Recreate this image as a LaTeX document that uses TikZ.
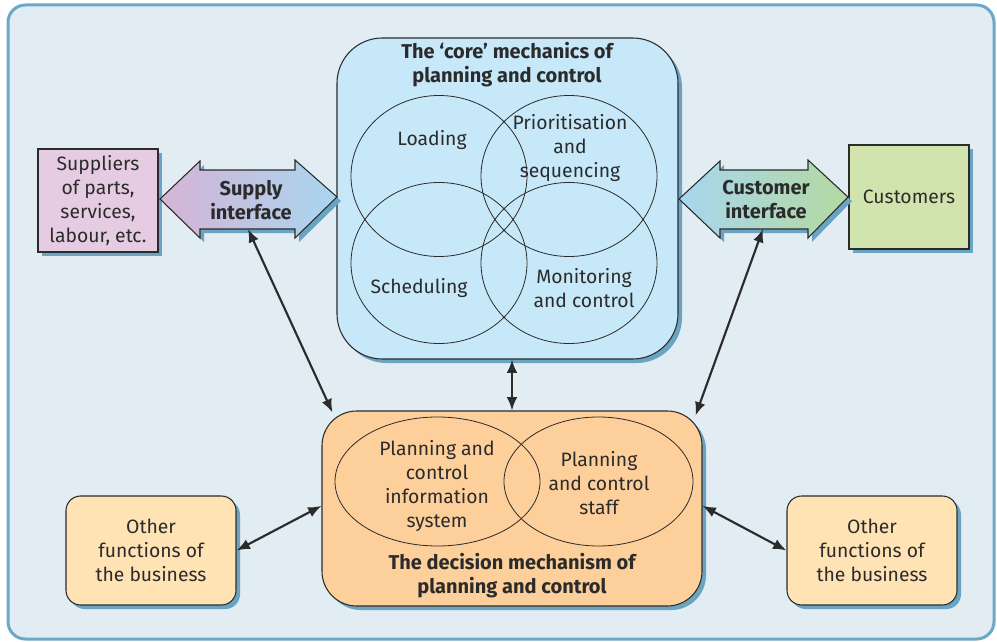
\documentclass[tikz,border=0pt]{standalone}
\usepackage{fontspec}
\setmainfont{Fira Sans}
\usepackage{xcolor}
\definecolor{bgblue}{HTML}{E1ECF3}
\definecolor{frameblue}{HTML}{6CA8C8}
\definecolor{shadowblue}{HTML}{6BA3C2}
\definecolor{corefill}{HTML}{C6E8F8}
\definecolor{decfill}{HTML}{FDCF9B}
\definecolor{otherfill}{HTML}{FFE3B5}
\definecolor{suppfill}{HTML}{E6CCE3}
\definecolor{custfill}{HTML}{D2E4AE}
\definecolor{pinkgrad}{HTML}{D6B3D6}
\definecolor{bluegrad}{HTML}{A8D6EF}
\definecolor{greengrad}{HTML}{B3D9A0}
\definecolor{inkgray}{HTML}{2B2B2B}
\usepackage{tikz}
\usetikzlibrary{shapes.geometric, arrows.meta, shadows}

\begin{document}
\begin{tikzpicture}[x=0.75pt, y=-0.75pt,
  every node/.style={font=\fontsize{14.5}{18}\selectfont, text=inkgray},
  shade/.style={drop shadow={shadow xshift=3pt, shadow yshift=-3pt, fill=shadowblue, opacity=1}},
  box/.style={rectangle, draw=inkgray, line width=0.8pt, align=center, inner sep=0pt, shade},
  venn/.style={ellipse, draw=inkgray, line width=0.6pt, inner sep=0pt},
  iface/.style={draw=inkgray, line width=0.8pt, shade},
  lbl/.style={align=center},
  ttl/.style={align=center, font=\bfseries\fontsize{15}{18}\selectfont},
  arr/.style={{Latex[length=10pt,width=8pt]}-{Latex[length=10pt,width=8pt]}, line width=1.6pt, inkgray}
]
\useasboundingbox (0,0) rectangle (997,642);
\draw[frameblue, fill=bgblue, line width=2.25pt, rounded corners=13pt] (8,5) rectangle (994,639);

% core mechanics
\node[box, fill=corefill, rounded corners=34pt, minimum width=255.75pt, minimum height=240.75pt] (core) at (507.5,198.5) {};
\node[ttl] (coretitle) at (507,65) {The ‘core’ mechanics of\\planning and control};
\node[venn, minimum width=132pt, minimum height=120.75pt] (load) at (439,176) {};
\node[venn, minimum width=132pt, minimum height=120.75pt] (prio) at (569,176) {};
\node[venn, minimum width=132pt, minimum height=120.75pt] (sched) at (439,263) {};
\node[venn, minimum width=132pt, minimum height=120.75pt] (monit) at (569,263) {};
\node[lbl] (loadtxt) at (432,140) {Loading};
\node[lbl] (priotxt) at (570,148) {Prioritisation\\and\\sequencing};
\node[lbl] (schedtxt) at (419,288) {Scheduling};
\node[lbl] (monittxt) at (584,288) {Monitoring\\and control};

% decision mechanism
\node[box, fill=decfill, rounded corners=26pt, minimum width=285pt, minimum height=146.25pt] (decision) at (512,508.5) {};
\node[venn, minimum width=153.75pt, minimum height=96.75pt] (infosys) at (437.5,481.5) {};
\node[venn, minimum width=141.75pt, minimum height=96.75pt] (staff) at (598.5,481.5) {};
\node[lbl] (infotxt) at (437,486) {Planning and\\control\\information\\system};
\node[lbl] (stafftxt) at (599,483) {Planning\\and control\\staff};
\node[ttl] (dectitle) at (512,576) {The decision mechanism of\\planning and control};

% outside parties
\node[box, fill=suppfill, minimum width=90pt, minimum height=77.25pt] (suppliers) at (98,200.5) {Suppliers\\of parts,\\services,\\labour, etc.};
\node[box, fill=custfill, minimum width=90pt, minimum height=78pt] (customers) at (909,197) {Customers};
\node[box, fill=otherfill, rounded corners=11pt, minimum width=127.5pt, minimum height=81.75pt] (otherL) at (151,550.5) {Other\\functions of\\the business};
\node[box, fill=otherfill, rounded corners=11pt, minimum width=127.5pt, minimum height=81.75pt] (otherR) at (872,550.5) {Other\\functions of\\the business};

% interfaces (double arrows)
\draw[iface, left color=pinkgrad, right color=bluegrad]
  (160,199) -- (200,161) -- (200,170) -- (295,170) -- (295,160) -- (337,197)
  -- (295,238) -- (295,229) -- (200,229) -- (200,238) -- cycle;
\draw[iface, left color=bluegrad, right color=greengrad]
  (679,199) -- (720,161) -- (720,170) -- (808,170) -- (808,160) -- (848,197)
  -- (808,238) -- (808,229) -- (720,229) -- (720,238) -- cycle;
\node[ttl] (supply) at (251,200) {Supply\\interface};
\node[ttl] (custif) at (766,200) {Customer\\interface};
\coordinate (supplyfoot) at (248,229);
\coordinate (custfoot) at (763,229);

\draw[arr] (supplyfoot) -- ([shift={(11,2)}]decision.north west);
\draw[arr] (custfoot) -- ([shift={(-7,5)}]decision.north east);
\draw[arr] (core.south -| decision.north) -- (decision.north);
\draw[arr] (otherL.east) -- ([yshift=2pt]decision.west);
\draw[arr] ([yshift=2pt]decision.east) -- (otherR.west);
\end{tikzpicture}
\end{document}
